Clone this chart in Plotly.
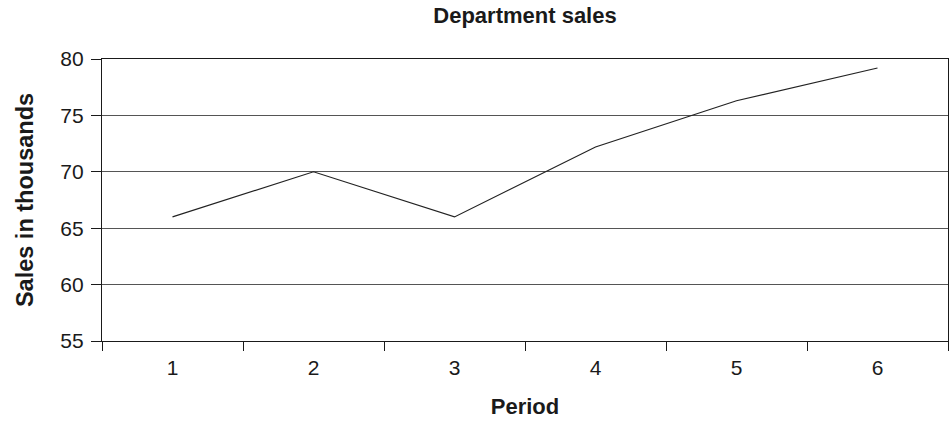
import plotly.graph_objects as go

periods = ["1", "2", "3", "4", "5", "6"]
sales = [66.0, 70.0, 66.0, 72.2, 76.3, 79.2]
y_ticks = [55, 60, 65, 70, 75, 80]

font_family = "Liberation Sans, Arial, sans-serif"
ink = "#1a1a1a"

fig = go.Figure()
fig.add_trace(go.Scatter(
    x=periods, y=sales, mode="lines",
    line=dict(color="#222222", width=1.2),
    showlegend=False, hoverinfo="x+y",
))

fig.update_layout(
    width=951, height=423,
    margin=dict(l=102, r=3, t=59, b=82),
    paper_bgcolor="white", plot_bgcolor="white",
    font=dict(family=font_family, size=21, color=ink),
    title=dict(
        text="<b>Department sales</b>",
        x=(102 + 948) / 2 / 951, xanchor="center",
        y=1 - 15 / 423, yanchor="middle",
        font=dict(size=22, family=font_family, color=ink),
    ),
    xaxis=dict(
        type="category", range=[-0.5, 5.5],
        showline=True, linecolor=ink, linewidth=1.2, mirror=True,
        ticks="outside", tickson="boundaries", ticklen=9, tickcolor=ink,
        tickwidth=1.2, showgrid=False, zeroline=False,
        ticklabelstandoff=8,
        title=dict(text="<b>Period</b>", standoff=20,
                   font=dict(size=22, family=font_family, color=ink)),
        tickfont=dict(size=21),
    ),
    yaxis=dict(
        range=[55, 80], tickvals=y_ticks,
        showline=True, linecolor=ink, linewidth=1.2, mirror=True,
        ticks="outside", ticklen=10, tickcolor=ink, tickwidth=1.2,
        showgrid=True, gridcolor="#555555", gridwidth=1,
        zeroline=False,
        ticklabelstandoff=3,
        title=dict(text="<b>Sales in thousands</b>", standoff=20,
                   font=dict(size=23.5, family=font_family, color=ink)),
        tickfont=dict(size=21),
    ),
)

fig.write_html("out.html")
